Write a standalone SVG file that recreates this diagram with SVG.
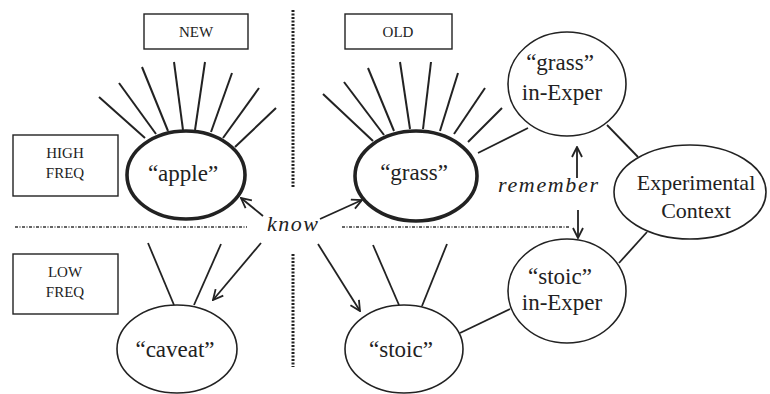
<svg xmlns="http://www.w3.org/2000/svg" width="770" height="394" viewBox="0 0 770 394" font-family="'Liberation Serif', 'Times New Roman', Times, serif">
<defs>
<marker id="arr" viewBox="0 0 12 12" refX="11" refY="6" markerWidth="12" markerHeight="12" markerUnits="userSpaceOnUse" orient="auto">
<path d="M1,1 L11,6 L1,11" fill="none" stroke="#222" stroke-width="1.8"/>
</marker>
<style>
.box{fill:#fff;stroke:#222;stroke-width:1.4}
.thick{fill:#fff;stroke:#222;stroke-width:3.6}
.thin{fill:#fff;stroke:#222;stroke-width:1.6}
.ray{stroke:#222;stroke-width:2;fill:none}
.ln{stroke:#222;stroke-width:1.8;fill:none}
.vdot{stroke:#222;stroke-width:3;stroke-dasharray:2 1.5;fill:none}
.hdot{stroke:#333;stroke-width:1.5;stroke-dasharray:3 1.5 1 1.5;fill:none}
text{font-family:'Liberation Serif','Times New Roman',Times,serif;fill:#222}
.sm{font-size:15px;text-anchor:middle}
.lb{font-size:23px;text-anchor:middle}
.it{font-style:italic;font-size:22px}
</style>
</defs>
<g id="dividers">
<line class="vdot" x1="293" y1="10" x2="293" y2="188"/>
<line class="vdot" x1="293" y1="254" x2="293" y2="367"/>
<line class="hdot" x1="15" y1="227" x2="247" y2="227"/>
<line class="hdot" x1="342" y1="227" x2="570" y2="227"/>
</g>
<g id="connectors">
<line class="ray" x1="99" y1="97" x2="145" y2="138"/>
<line class="ray" x1="119" y1="83" x2="156" y2="134"/>
<line class="ray" x1="142" y1="67" x2="168" y2="131"/>
<line class="ray" x1="174" y1="62" x2="183" y2="130"/>
<line class="ray" x1="205" y1="62" x2="195" y2="130"/>
<line class="ray" x1="232" y1="73" x2="211" y2="132"/>
<line class="ray" x1="259" y1="88" x2="223" y2="138"/>
<line class="ray" x1="276" y1="108" x2="235" y2="147"/>
<line class="ray" x1="323" y1="94" x2="373" y2="141"/>
<line class="ray" x1="344" y1="82" x2="384" y2="135"/>
<line class="ray" x1="368" y1="68" x2="394" y2="131"/>
<line class="ray" x1="400" y1="62" x2="410" y2="129"/>
<line class="ray" x1="431" y1="62" x2="423" y2="129"/>
<line class="ray" x1="458" y1="73" x2="440" y2="131"/>
<line class="ray" x1="485" y1="88" x2="454" y2="134"/>
<line class="ray" x1="502" y1="108" x2="468" y2="142"/>
<line class="ln" x1="478" y1="153" x2="528" y2="128"/>
<line class="ln" x1="607" y1="125" x2="638" y2="157"/>
<line class="ln" x1="647" y1="232" x2="619" y2="263"/>
<line class="ln" x1="460" y1="333" x2="510" y2="309"/>
<line class="ln" x1="148" y1="243" x2="174" y2="305"/>
<line class="ln" x1="221" y1="244" x2="194" y2="305"/>
<line class="ln" x1="373" y1="245" x2="399" y2="305"/>
<line class="ln" x1="447" y1="244" x2="422" y2="306"/>
<line class="ln" x1="263" y1="216" x2="241" y2="198" marker-end="url(#arr)"/>
<line class="ln" x1="320" y1="219" x2="362" y2="200" marker-end="url(#arr)"/>
<line class="ln" x1="261" y1="243" x2="213" y2="300" marker-end="url(#arr)"/>
<line class="ln" x1="318" y1="244" x2="360" y2="311" marker-end="url(#arr)"/>
<line class="ln" x1="577" y1="178" x2="577" y2="147" marker-end="url(#arr)"/>
<line class="ln" x1="578" y1="210" x2="578" y2="238" marker-end="url(#arr)"/>
</g>
<g id="new-label"><rect class="box" x="144" y="14" width="104" height="35"/><text class="sm" x="196" y="37">NEW</text></g>
<g id="old-label"><rect class="box" x="345" y="14" width="107" height="35"/><text class="sm" x="398" y="37">OLD</text></g>
<g id="high-freq"><rect class="box" x="13" y="135" width="105" height="61"/><text class="sm" x="65" y="158">HIGH</text><text class="sm" x="65" y="178">FREQ</text></g>
<g id="low-freq"><rect class="box" x="13" y="254" width="105" height="60"/><text class="sm" x="65" y="277">LOW</text><text class="sm" x="65" y="297">FREQ</text></g>
<g id="apple"><ellipse class="thick" cx="186" cy="175" rx="59" ry="44"/><text class="lb" x="183" y="181">“apple”</text></g>
<g id="grass"><ellipse class="thick" cx="416" cy="176" rx="61" ry="45"/><text class="lb" x="414" y="180">“grass”</text></g>
<g id="caveat"><ellipse class="thin" cx="177" cy="349" rx="60" ry="44"/><text class="lb" x="175" y="357">“caveat”</text></g>
<g id="stoic"><ellipse class="thin" cx="404" cy="349" rx="59" ry="44"/><text class="lb" x="401" y="357">“stoic”</text></g>
<g id="grass-in-exper"><ellipse class="thin" cx="567" cy="84" rx="59" ry="52"/><text class="lb" x="560" y="70">“grass”</text><text class="lb" x="562" y="100">in-Exper</text></g>
<g id="stoic-in-exper"><ellipse class="thin" cx="567" cy="291" rx="59" ry="52"/><text class="lb" x="560" y="284">“stoic”</text><text class="lb" x="562" y="310">in-Exper</text></g>
<g id="experimental-context"><ellipse class="thin" cx="690" cy="192" rx="76" ry="47"/><text class="lb" x="696" y="190" style="font-size:22px">Experimental</text><text class="lb" x="696" y="218" style="font-size:22px">Context</text></g>
<g id="know-label"><text class="it" x="267" y="231" textLength="51">know</text></g>
<g id="remember-label"><text class="it" x="498" y="192" textLength="100">remember</text></g>
</svg>
